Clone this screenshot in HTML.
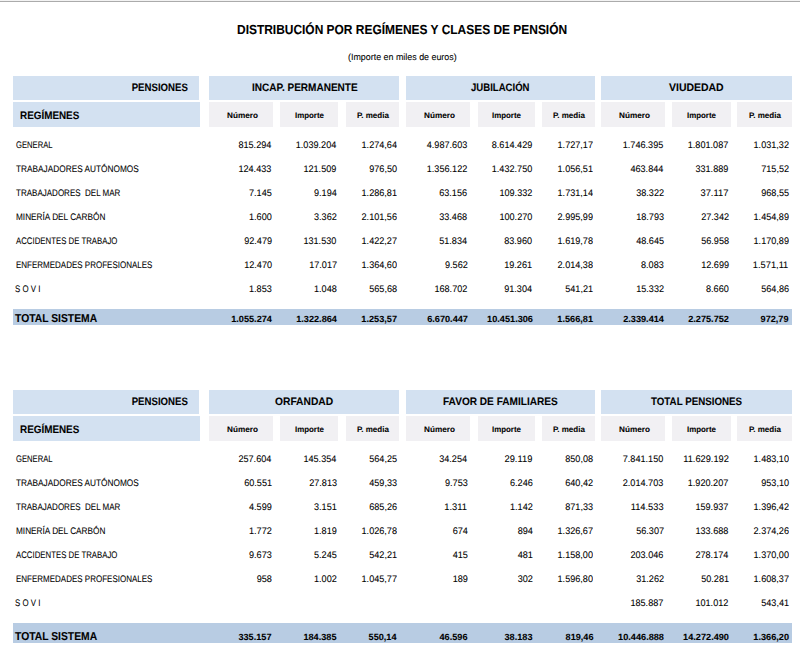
<!DOCTYPE html>
<html><head><meta charset="utf-8"><style>
html,body{margin:0;padding:0;background:#fff;width:800px;height:652px;overflow:hidden}
body{position:relative;font-family:"Liberation Sans",sans-serif}
.r{position:absolute}
.t{position:absolute;white-space:pre;line-height:0;height:0;-webkit-text-stroke:0.08px #000;text-rendering:geometricPrecision}
.t span{display:inline-block;line-height:0;height:0;vertical-align:baseline}
</style></head><body>
<div class="r" style="left:0px;top:0px;width:800.00px;height:1.00px;background:#f3f3f3"></div>
<div class="r" style="left:0px;top:1px;width:800.00px;height:1.00px;background:#ababab"></div>
<div class="t" style="left:236.75px;transform-origin:0 0;top:30.38px;font-size:13.188px;font-weight:700;color:#000;transform:scaleX(0.9069)"><span>DISTRIBUCIÓN POR REGÍMENES Y CLASES DE PENSIÓN</span></div>
<div class="t" style="left:348.00px;transform-origin:0 0;top:57.29px;font-size:9.120px;font-weight:400;color:#000;transform:scaleX(0.9757)"><span>(Importe en miles de euros)</span></div>
<div class="r" style="left:12.5px;top:75.5px;width:186.50px;height:24.00px;background:#d3e1f1"></div>
<div class="t" style="right:612.50px;transform-origin:100% 0;top:87.51px;font-size:10.788px;font-weight:700;color:#000;transform:scaleX(0.8936)"><span>PENSIONES</span></div>
<div class="r" style="left:12.5px;top:102px;width:187.00px;height:24.50px;background:#d3e1f1"></div>
<div class="t" style="left:20.00px;transform-origin:0 0;top:115.76px;font-size:10.788px;font-weight:700;color:#000;transform:scaleX(0.9175)"><span>REGÍMENES</span></div>
<div class="r" style="left:209.4px;top:75.5px;width:189.20px;height:24.00px;background:#d3e1f1"></div>
<div class="t" style="left:252.25px;transform-origin:0 0;top:87.51px;font-size:10.788px;font-weight:700;color:#000;transform:scaleX(0.9314)"><span>INCAP. PERMANENTE</span></div>
<div class="r" style="left:405.7px;top:75.5px;width:189.30px;height:24.00px;background:#d3e1f1"></div>
<div class="t" style="left:471.10px;transform-origin:0 0;top:87.51px;font-size:10.788px;font-weight:700;color:#000;transform:scaleX(0.8889)"><span>JUBILACIÓN</span></div>
<div class="r" style="left:601.4px;top:75.5px;width:190.60px;height:24.00px;background:#d3e1f1"></div>
<div class="t" style="left:668.80px;transform-origin:0 0;top:87.51px;font-size:10.788px;font-weight:700;color:#000;transform:scaleX(0.9726)"><span>VIUDEDAD</span></div>
<div class="r" style="left:209.4px;top:101.75px;width:63.60px;height:24.75px;background:#f1f0f3"></div>
<div class="t" style="left:227.00px;transform-origin:0 0;top:116.45px;font-size:8.091px;font-weight:700;color:#000;transform:scaleX(1.0141)"><span>Número</span></div>
<div class="r" style="left:279.6px;top:101.75px;width:58.40px;height:24.75px;background:#f1f0f3"></div>
<div class="t" style="left:294.60px;transform-origin:0 0;top:116.45px;font-size:8.091px;font-weight:700;color:#000;transform:scaleX(0.9774)"><span>Importe</span></div>
<div class="r" style="left:345.5px;top:101.75px;width:53.50px;height:24.75px;background:#f1f0f3"></div>
<div class="t" style="left:356.55px;transform-origin:0 0;top:116.45px;font-size:8.091px;font-weight:700;color:#000;transform:scaleX(0.9910)"><span>P. media</span></div>
<div class="r" style="left:405.7px;top:101.75px;width:64.30px;height:24.75px;background:#f1f0f3"></div>
<div class="t" style="left:423.65px;transform-origin:0 0;top:116.45px;font-size:8.091px;font-weight:700;color:#000;transform:scaleX(1.0141)"><span>Número</span></div>
<div class="r" style="left:477.5px;top:101.75px;width:57.50px;height:24.75px;background:#f1f0f3"></div>
<div class="t" style="left:492.05px;transform-origin:0 0;top:116.45px;font-size:8.091px;font-weight:700;color:#000;transform:scaleX(0.9774)"><span>Importe</span></div>
<div class="r" style="left:542px;top:101.75px;width:53.00px;height:24.75px;background:#f1f0f3"></div>
<div class="t" style="left:552.80px;transform-origin:0 0;top:116.45px;font-size:8.091px;font-weight:700;color:#000;transform:scaleX(0.9910)"><span>P. media</span></div>
<div class="r" style="left:601.4px;top:101.75px;width:63.60px;height:24.75px;background:#f1f0f3"></div>
<div class="t" style="left:619.00px;transform-origin:0 0;top:116.45px;font-size:8.091px;font-weight:700;color:#000;transform:scaleX(1.0141)"><span>Número</span></div>
<div class="r" style="left:672px;top:101.75px;width:59.00px;height:24.75px;background:#f1f0f3"></div>
<div class="t" style="left:687.30px;transform-origin:0 0;top:116.45px;font-size:8.091px;font-weight:700;color:#000;transform:scaleX(0.9774)"><span>Importe</span></div>
<div class="r" style="left:737.3px;top:101.75px;width:54.70px;height:24.75px;background:#f1f0f3"></div>
<div class="t" style="left:748.95px;transform-origin:0 0;top:116.45px;font-size:8.091px;font-weight:700;color:#000;transform:scaleX(0.9910)"><span>P. media</span></div>
<div class="t" style="left:15.60px;transform-origin:0 0;top:145.56px;font-size:9.500px;font-weight:400;color:#000;transform:scaleX(0.8040)"><span>GENERAL</span></div>
<div class="t" style="right:528.25px;transform-origin:100% 0;top:145.56px;font-size:9.500px;font-weight:400;color:#000;transform:scaleX(0.9592)"><span>815.294</span></div>
<div class="t" style="right:463.25px;transform-origin:100% 0;top:145.56px;font-size:9.500px;font-weight:400;color:#000;transform:scaleX(0.9589)"><span>1.039.204</span></div>
<div class="t" style="right:403.25px;transform-origin:100% 0;top:145.56px;font-size:9.500px;font-weight:400;color:#000;transform:scaleX(0.9580)"><span>1.274,64</span></div>
<div class="t" style="right:332.50px;transform-origin:100% 0;top:145.56px;font-size:9.500px;font-weight:400;color:#000;transform:scaleX(0.9589)"><span>4.987.603</span></div>
<div class="t" style="right:267.50px;transform-origin:100% 0;top:145.56px;font-size:9.500px;font-weight:400;color:#000;transform:scaleX(0.9589)"><span>8.614.429</span></div>
<div class="t" style="right:207.00px;transform-origin:100% 0;top:145.56px;font-size:9.500px;font-weight:400;color:#000;transform:scaleX(0.9580)"><span>1.727,17</span></div>
<div class="t" style="right:136.25px;transform-origin:100% 0;top:145.56px;font-size:9.500px;font-weight:400;color:#000;transform:scaleX(0.9589)"><span>1.746.395</span></div>
<div class="t" style="right:71.25px;transform-origin:100% 0;top:145.56px;font-size:9.500px;font-weight:400;color:#000;transform:scaleX(0.9589)"><span>1.801.087</span></div>
<div class="t" style="right:11.25px;transform-origin:100% 0;top:145.56px;font-size:9.500px;font-weight:400;color:#000;transform:scaleX(0.9580)"><span>1.031,32</span></div>
<div class="t" style="left:15.60px;transform-origin:0 0;top:169.56px;font-size:9.500px;font-weight:400;color:#000;transform:scaleX(0.8713)"><span>TRABAJADORES AUTÓNOMOS</span></div>
<div class="t" style="right:528.25px;transform-origin:100% 0;top:169.56px;font-size:9.500px;font-weight:400;color:#000;transform:scaleX(0.9592)"><span>124.433</span></div>
<div class="t" style="right:463.25px;transform-origin:100% 0;top:169.56px;font-size:9.500px;font-weight:400;color:#000;transform:scaleX(0.9592)"><span>121.509</span></div>
<div class="t" style="right:403.25px;transform-origin:100% 0;top:169.56px;font-size:9.500px;font-weight:400;color:#000;transform:scaleX(0.9580)"><span>976,50</span></div>
<div class="t" style="right:332.50px;transform-origin:100% 0;top:169.56px;font-size:9.500px;font-weight:400;color:#000;transform:scaleX(0.9589)"><span>1.356.122</span></div>
<div class="t" style="right:267.50px;transform-origin:100% 0;top:169.56px;font-size:9.500px;font-weight:400;color:#000;transform:scaleX(0.9589)"><span>1.432.750</span></div>
<div class="t" style="right:207.00px;transform-origin:100% 0;top:169.56px;font-size:9.500px;font-weight:400;color:#000;transform:scaleX(0.9580)"><span>1.056,51</span></div>
<div class="t" style="right:136.25px;transform-origin:100% 0;top:169.56px;font-size:9.500px;font-weight:400;color:#000;transform:scaleX(0.9592)"><span>463.844</span></div>
<div class="t" style="right:71.25px;transform-origin:100% 0;top:169.56px;font-size:9.500px;font-weight:400;color:#000;transform:scaleX(0.9592)"><span>331.889</span></div>
<div class="t" style="right:11.25px;transform-origin:100% 0;top:169.56px;font-size:9.500px;font-weight:400;color:#000;transform:scaleX(0.9580)"><span>715,52</span></div>
<div class="t" style="left:15.60px;transform-origin:0 0;top:193.56px;font-size:9.500px;font-weight:400;color:#000;transform:scaleX(0.8440)"><span>TRABAJADORES  DEL MAR</span></div>
<div class="t" style="right:528.25px;transform-origin:100% 0;top:193.56px;font-size:9.500px;font-weight:400;color:#000;transform:scaleX(0.9592)"><span>7.145</span></div>
<div class="t" style="right:463.25px;transform-origin:100% 0;top:193.56px;font-size:9.500px;font-weight:400;color:#000;transform:scaleX(0.9592)"><span>9.194</span></div>
<div class="t" style="right:403.25px;transform-origin:100% 0;top:193.56px;font-size:9.500px;font-weight:400;color:#000;transform:scaleX(0.9580)"><span>1.286,81</span></div>
<div class="t" style="right:332.50px;transform-origin:100% 0;top:193.56px;font-size:9.500px;font-weight:400;color:#000;transform:scaleX(0.9590)"><span>63.156</span></div>
<div class="t" style="right:267.50px;transform-origin:100% 0;top:193.56px;font-size:9.500px;font-weight:400;color:#000;transform:scaleX(0.9592)"><span>109.332</span></div>
<div class="t" style="right:207.00px;transform-origin:100% 0;top:193.56px;font-size:9.500px;font-weight:400;color:#000;transform:scaleX(0.9580)"><span>1.731,14</span></div>
<div class="t" style="right:136.25px;transform-origin:100% 0;top:193.56px;font-size:9.500px;font-weight:400;color:#000;transform:scaleX(0.9590)"><span>38.322</span></div>
<div class="t" style="right:71.25px;transform-origin:100% 0;top:193.56px;font-size:9.500px;font-weight:400;color:#000;transform:scaleX(0.9831)"><span>37.117</span></div>
<div class="t" style="right:11.25px;transform-origin:100% 0;top:193.56px;font-size:9.500px;font-weight:400;color:#000;transform:scaleX(0.9580)"><span>968,55</span></div>
<div class="t" style="left:15.60px;transform-origin:0 0;top:217.56px;font-size:9.500px;font-weight:400;color:#000;transform:scaleX(0.8670)"><span>MINERÍA DEL CARBÓN</span></div>
<div class="t" style="right:528.25px;transform-origin:100% 0;top:217.56px;font-size:9.500px;font-weight:400;color:#000;transform:scaleX(0.9592)"><span>1.600</span></div>
<div class="t" style="right:463.25px;transform-origin:100% 0;top:217.56px;font-size:9.500px;font-weight:400;color:#000;transform:scaleX(0.9592)"><span>3.362</span></div>
<div class="t" style="right:403.25px;transform-origin:100% 0;top:217.56px;font-size:9.500px;font-weight:400;color:#000;transform:scaleX(0.9580)"><span>2.101,56</span></div>
<div class="t" style="right:332.50px;transform-origin:100% 0;top:217.56px;font-size:9.500px;font-weight:400;color:#000;transform:scaleX(0.9590)"><span>33.468</span></div>
<div class="t" style="right:267.50px;transform-origin:100% 0;top:217.56px;font-size:9.500px;font-weight:400;color:#000;transform:scaleX(0.9592)"><span>100.270</span></div>
<div class="t" style="right:207.00px;transform-origin:100% 0;top:217.56px;font-size:9.500px;font-weight:400;color:#000;transform:scaleX(0.9580)"><span>2.995,99</span></div>
<div class="t" style="right:136.25px;transform-origin:100% 0;top:217.56px;font-size:9.500px;font-weight:400;color:#000;transform:scaleX(0.9590)"><span>18.793</span></div>
<div class="t" style="right:71.25px;transform-origin:100% 0;top:217.56px;font-size:9.500px;font-weight:400;color:#000;transform:scaleX(0.9590)"><span>27.342</span></div>
<div class="t" style="right:11.25px;transform-origin:100% 0;top:217.56px;font-size:9.500px;font-weight:400;color:#000;transform:scaleX(0.9580)"><span>1.454,89</span></div>
<div class="t" style="left:15.60px;transform-origin:0 0;top:241.56px;font-size:9.500px;font-weight:400;color:#000;transform:scaleX(0.8221)"><span>ACCIDENTES DE TRABAJO</span></div>
<div class="t" style="right:528.25px;transform-origin:100% 0;top:241.56px;font-size:9.500px;font-weight:400;color:#000;transform:scaleX(0.9590)"><span>92.479</span></div>
<div class="t" style="right:463.25px;transform-origin:100% 0;top:241.56px;font-size:9.500px;font-weight:400;color:#000;transform:scaleX(0.9592)"><span>131.530</span></div>
<div class="t" style="right:403.25px;transform-origin:100% 0;top:241.56px;font-size:9.500px;font-weight:400;color:#000;transform:scaleX(0.9580)"><span>1.422,27</span></div>
<div class="t" style="right:332.50px;transform-origin:100% 0;top:241.56px;font-size:9.500px;font-weight:400;color:#000;transform:scaleX(0.9590)"><span>51.834</span></div>
<div class="t" style="right:267.50px;transform-origin:100% 0;top:241.56px;font-size:9.500px;font-weight:400;color:#000;transform:scaleX(0.9590)"><span>83.960</span></div>
<div class="t" style="right:207.00px;transform-origin:100% 0;top:241.56px;font-size:9.500px;font-weight:400;color:#000;transform:scaleX(0.9580)"><span>1.619,78</span></div>
<div class="t" style="right:136.25px;transform-origin:100% 0;top:241.56px;font-size:9.500px;font-weight:400;color:#000;transform:scaleX(0.9590)"><span>48.645</span></div>
<div class="t" style="right:71.25px;transform-origin:100% 0;top:241.56px;font-size:9.500px;font-weight:400;color:#000;transform:scaleX(0.9590)"><span>56.958</span></div>
<div class="t" style="right:11.25px;transform-origin:100% 0;top:241.56px;font-size:9.500px;font-weight:400;color:#000;transform:scaleX(0.9580)"><span>1.170,89</span></div>
<div class="t" style="left:15.60px;transform-origin:0 0;top:265.56px;font-size:9.500px;font-weight:400;color:#000;transform:scaleX(0.8417)"><span>ENFERMEDADES PROFESIONALES</span></div>
<div class="t" style="right:528.25px;transform-origin:100% 0;top:265.56px;font-size:9.500px;font-weight:400;color:#000;transform:scaleX(0.9590)"><span>12.470</span></div>
<div class="t" style="right:463.25px;transform-origin:100% 0;top:265.56px;font-size:9.500px;font-weight:400;color:#000;transform:scaleX(0.9590)"><span>17.017</span></div>
<div class="t" style="right:403.25px;transform-origin:100% 0;top:265.56px;font-size:9.500px;font-weight:400;color:#000;transform:scaleX(0.9580)"><span>1.364,60</span></div>
<div class="t" style="right:332.50px;transform-origin:100% 0;top:265.56px;font-size:9.500px;font-weight:400;color:#000;transform:scaleX(0.9592)"><span>9.562</span></div>
<div class="t" style="right:267.50px;transform-origin:100% 0;top:265.56px;font-size:9.500px;font-weight:400;color:#000;transform:scaleX(0.9590)"><span>19.261</span></div>
<div class="t" style="right:207.00px;transform-origin:100% 0;top:265.56px;font-size:9.500px;font-weight:400;color:#000;transform:scaleX(0.9580)"><span>2.014,38</span></div>
<div class="t" style="right:136.25px;transform-origin:100% 0;top:265.56px;font-size:9.500px;font-weight:400;color:#000;transform:scaleX(0.9592)"><span>8.083</span></div>
<div class="t" style="right:71.25px;transform-origin:100% 0;top:265.56px;font-size:9.500px;font-weight:400;color:#000;transform:scaleX(0.9590)"><span>12.699</span></div>
<div class="t" style="right:11.25px;transform-origin:100% 0;top:265.56px;font-size:9.500px;font-weight:400;color:#000;transform:scaleX(0.9768)"><span>1.571,11</span></div>
<div class="t" style="left:15.00px;transform-origin:0 0;top:289.56px;font-size:9.500px;font-weight:400;color:#000;transform:scaleX(0.8296)"><span>S O V I</span></div>
<div class="t" style="right:528.25px;transform-origin:100% 0;top:289.56px;font-size:9.500px;font-weight:400;color:#000;transform:scaleX(0.9592)"><span>1.853</span></div>
<div class="t" style="right:463.25px;transform-origin:100% 0;top:289.56px;font-size:9.500px;font-weight:400;color:#000;transform:scaleX(0.9592)"><span>1.048</span></div>
<div class="t" style="right:403.25px;transform-origin:100% 0;top:289.56px;font-size:9.500px;font-weight:400;color:#000;transform:scaleX(0.9580)"><span>565,68</span></div>
<div class="t" style="right:332.50px;transform-origin:100% 0;top:289.56px;font-size:9.500px;font-weight:400;color:#000;transform:scaleX(0.9592)"><span>168.702</span></div>
<div class="t" style="right:267.50px;transform-origin:100% 0;top:289.56px;font-size:9.500px;font-weight:400;color:#000;transform:scaleX(0.9590)"><span>91.304</span></div>
<div class="t" style="right:207.00px;transform-origin:100% 0;top:289.56px;font-size:9.500px;font-weight:400;color:#000;transform:scaleX(0.9580)"><span>541,21</span></div>
<div class="t" style="right:136.25px;transform-origin:100% 0;top:289.56px;font-size:9.500px;font-weight:400;color:#000;transform:scaleX(0.9590)"><span>15.332</span></div>
<div class="t" style="right:71.25px;transform-origin:100% 0;top:289.56px;font-size:9.500px;font-weight:400;color:#000;transform:scaleX(0.9592)"><span>8.660</span></div>
<div class="t" style="right:11.25px;transform-origin:100% 0;top:289.56px;font-size:9.500px;font-weight:400;color:#000;transform:scaleX(0.9580)"><span>564,86</span></div>
<div class="r" style="left:12.5px;top:309px;width:779.50px;height:16.00px;background:#b8cce3"></div>
<div class="t" style="left:15.25px;transform-origin:0 0;top:318.89px;font-size:11.417px;font-weight:700;color:#000;transform:scaleX(0.9067)"><span>TOTAL SISTEMA</span></div>
<div class="t" style="right:528.05px;transform-origin:100% 0;top:319.13px;font-size:8.990px;font-weight:700;color:#000;transform:scaleX(1.0206)"><span>1.055.274</span></div>
<div class="t" style="right:463.05px;transform-origin:100% 0;top:319.13px;font-size:8.990px;font-weight:700;color:#000;transform:scaleX(1.0206)"><span>1.322.864</span></div>
<div class="t" style="right:403.05px;transform-origin:100% 0;top:319.13px;font-size:8.990px;font-weight:700;color:#000;transform:scaleX(1.0189)"><span>1.253,57</span></div>
<div class="t" style="right:332.30px;transform-origin:100% 0;top:319.13px;font-size:8.990px;font-weight:700;color:#000;transform:scaleX(1.0206)"><span>6.670.447</span></div>
<div class="t" style="right:267.30px;transform-origin:100% 0;top:319.13px;font-size:8.990px;font-weight:700;color:#000;transform:scaleX(1.0199)"><span>10.451.306</span></div>
<div class="t" style="right:206.80px;transform-origin:100% 0;top:319.13px;font-size:8.990px;font-weight:700;color:#000;transform:scaleX(1.0189)"><span>1.566,81</span></div>
<div class="t" style="right:136.05px;transform-origin:100% 0;top:319.13px;font-size:8.990px;font-weight:700;color:#000;transform:scaleX(1.0206)"><span>2.339.414</span></div>
<div class="t" style="right:71.05px;transform-origin:100% 0;top:319.13px;font-size:8.990px;font-weight:700;color:#000;transform:scaleX(1.0206)"><span>2.275.752</span></div>
<div class="t" style="right:11.05px;transform-origin:100% 0;top:319.13px;font-size:8.990px;font-weight:700;color:#000;transform:scaleX(1.0153)"><span>972,79</span></div>
<div class="r" style="left:12.5px;top:389.5px;width:186.50px;height:24.00px;background:#d3e1f1"></div>
<div class="t" style="right:612.50px;transform-origin:100% 0;top:401.51px;font-size:10.788px;font-weight:700;color:#000;transform:scaleX(0.8936)"><span>PENSIONES</span></div>
<div class="r" style="left:12.5px;top:416px;width:187.00px;height:24.50px;background:#d3e1f1"></div>
<div class="t" style="left:20.00px;transform-origin:0 0;top:429.76px;font-size:10.788px;font-weight:700;color:#000;transform:scaleX(0.9175)"><span>REGÍMENES</span></div>
<div class="r" style="left:209.4px;top:389.5px;width:189.20px;height:24.00px;background:#d3e1f1"></div>
<div class="t" style="left:274.98px;transform-origin:0 0;top:401.51px;font-size:10.788px;font-weight:700;color:#000;transform:scaleX(0.9528)"><span>ORFANDAD</span></div>
<div class="r" style="left:405.7px;top:389.5px;width:189.30px;height:24.00px;background:#d3e1f1"></div>
<div class="t" style="left:443.00px;transform-origin:0 0;top:401.51px;font-size:10.788px;font-weight:700;color:#000;transform:scaleX(0.9375)"><span>FAVOR DE FAMILIARES</span></div>
<div class="r" style="left:601.4px;top:389.5px;width:190.60px;height:24.00px;background:#d3e1f1"></div>
<div class="t" style="left:651.27px;transform-origin:0 0;top:401.51px;font-size:10.788px;font-weight:700;color:#000;transform:scaleX(0.9061)"><span>TOTAL PENSIONES</span></div>
<div class="r" style="left:209.4px;top:415.75px;width:63.60px;height:24.75px;background:#f1f0f3"></div>
<div class="t" style="left:227.00px;transform-origin:0 0;top:430.45px;font-size:8.091px;font-weight:700;color:#000;transform:scaleX(1.0141)"><span>Número</span></div>
<div class="r" style="left:279.6px;top:415.75px;width:58.40px;height:24.75px;background:#f1f0f3"></div>
<div class="t" style="left:294.60px;transform-origin:0 0;top:430.45px;font-size:8.091px;font-weight:700;color:#000;transform:scaleX(0.9774)"><span>Importe</span></div>
<div class="r" style="left:345.5px;top:415.75px;width:53.50px;height:24.75px;background:#f1f0f3"></div>
<div class="t" style="left:356.55px;transform-origin:0 0;top:430.45px;font-size:8.091px;font-weight:700;color:#000;transform:scaleX(0.9910)"><span>P. media</span></div>
<div class="r" style="left:405.7px;top:415.75px;width:64.30px;height:24.75px;background:#f1f0f3"></div>
<div class="t" style="left:423.65px;transform-origin:0 0;top:430.45px;font-size:8.091px;font-weight:700;color:#000;transform:scaleX(1.0141)"><span>Número</span></div>
<div class="r" style="left:477.5px;top:415.75px;width:57.50px;height:24.75px;background:#f1f0f3"></div>
<div class="t" style="left:492.05px;transform-origin:0 0;top:430.45px;font-size:8.091px;font-weight:700;color:#000;transform:scaleX(0.9774)"><span>Importe</span></div>
<div class="r" style="left:542px;top:415.75px;width:53.00px;height:24.75px;background:#f1f0f3"></div>
<div class="t" style="left:552.80px;transform-origin:0 0;top:430.45px;font-size:8.091px;font-weight:700;color:#000;transform:scaleX(0.9910)"><span>P. media</span></div>
<div class="r" style="left:601.4px;top:415.75px;width:63.60px;height:24.75px;background:#f1f0f3"></div>
<div class="t" style="left:619.00px;transform-origin:0 0;top:430.45px;font-size:8.091px;font-weight:700;color:#000;transform:scaleX(1.0141)"><span>Número</span></div>
<div class="r" style="left:672px;top:415.75px;width:59.00px;height:24.75px;background:#f1f0f3"></div>
<div class="t" style="left:687.30px;transform-origin:0 0;top:430.45px;font-size:8.091px;font-weight:700;color:#000;transform:scaleX(0.9774)"><span>Importe</span></div>
<div class="r" style="left:737.3px;top:415.75px;width:54.70px;height:24.75px;background:#f1f0f3"></div>
<div class="t" style="left:748.95px;transform-origin:0 0;top:430.45px;font-size:8.091px;font-weight:700;color:#000;transform:scaleX(0.9910)"><span>P. media</span></div>
<div class="t" style="left:15.60px;transform-origin:0 0;top:459.56px;font-size:9.500px;font-weight:400;color:#000;transform:scaleX(0.8040)"><span>GENERAL</span></div>
<div class="t" style="right:528.25px;transform-origin:100% 0;top:459.56px;font-size:9.500px;font-weight:400;color:#000;transform:scaleX(0.9592)"><span>257.604</span></div>
<div class="t" style="right:463.25px;transform-origin:100% 0;top:459.56px;font-size:9.500px;font-weight:400;color:#000;transform:scaleX(0.9592)"><span>145.354</span></div>
<div class="t" style="right:403.25px;transform-origin:100% 0;top:459.56px;font-size:9.500px;font-weight:400;color:#000;transform:scaleX(0.9580)"><span>564,25</span></div>
<div class="t" style="right:332.50px;transform-origin:100% 0;top:459.56px;font-size:9.500px;font-weight:400;color:#000;transform:scaleX(0.9590)"><span>34.254</span></div>
<div class="t" style="right:267.50px;transform-origin:100% 0;top:459.56px;font-size:9.500px;font-weight:400;color:#000;transform:scaleX(0.9831)"><span>29.119</span></div>
<div class="t" style="right:207.00px;transform-origin:100% 0;top:459.56px;font-size:9.500px;font-weight:400;color:#000;transform:scaleX(0.9580)"><span>850,08</span></div>
<div class="t" style="right:136.25px;transform-origin:100% 0;top:459.56px;font-size:9.500px;font-weight:400;color:#000;transform:scaleX(0.9589)"><span>7.841.150</span></div>
<div class="t" style="right:71.25px;transform-origin:100% 0;top:459.56px;font-size:9.500px;font-weight:400;color:#000;transform:scaleX(0.9734)"><span>11.629.192</span></div>
<div class="t" style="right:11.25px;transform-origin:100% 0;top:459.56px;font-size:9.500px;font-weight:400;color:#000;transform:scaleX(0.9580)"><span>1.483,10</span></div>
<div class="t" style="left:15.60px;transform-origin:0 0;top:483.56px;font-size:9.500px;font-weight:400;color:#000;transform:scaleX(0.8713)"><span>TRABAJADORES AUTÓNOMOS</span></div>
<div class="t" style="right:528.25px;transform-origin:100% 0;top:483.56px;font-size:9.500px;font-weight:400;color:#000;transform:scaleX(0.9590)"><span>60.551</span></div>
<div class="t" style="right:463.25px;transform-origin:100% 0;top:483.56px;font-size:9.500px;font-weight:400;color:#000;transform:scaleX(0.9590)"><span>27.813</span></div>
<div class="t" style="right:403.25px;transform-origin:100% 0;top:483.56px;font-size:9.500px;font-weight:400;color:#000;transform:scaleX(0.9580)"><span>459,33</span></div>
<div class="t" style="right:332.50px;transform-origin:100% 0;top:483.56px;font-size:9.500px;font-weight:400;color:#000;transform:scaleX(0.9592)"><span>9.753</span></div>
<div class="t" style="right:267.50px;transform-origin:100% 0;top:483.56px;font-size:9.500px;font-weight:400;color:#000;transform:scaleX(0.9592)"><span>6.246</span></div>
<div class="t" style="right:207.00px;transform-origin:100% 0;top:483.56px;font-size:9.500px;font-weight:400;color:#000;transform:scaleX(0.9580)"><span>640,42</span></div>
<div class="t" style="right:136.25px;transform-origin:100% 0;top:483.56px;font-size:9.500px;font-weight:400;color:#000;transform:scaleX(0.9589)"><span>2.014.703</span></div>
<div class="t" style="right:71.25px;transform-origin:100% 0;top:483.56px;font-size:9.500px;font-weight:400;color:#000;transform:scaleX(0.9589)"><span>1.920.207</span></div>
<div class="t" style="right:11.25px;transform-origin:100% 0;top:483.56px;font-size:9.500px;font-weight:400;color:#000;transform:scaleX(0.9580)"><span>953,10</span></div>
<div class="t" style="left:15.60px;transform-origin:0 0;top:507.56px;font-size:9.500px;font-weight:400;color:#000;transform:scaleX(0.8440)"><span>TRABAJADORES  DEL MAR</span></div>
<div class="t" style="right:528.25px;transform-origin:100% 0;top:507.56px;font-size:9.500px;font-weight:400;color:#000;transform:scaleX(0.9592)"><span>4.599</span></div>
<div class="t" style="right:463.25px;transform-origin:100% 0;top:507.56px;font-size:9.500px;font-weight:400;color:#000;transform:scaleX(0.9592)"><span>3.151</span></div>
<div class="t" style="right:403.25px;transform-origin:100% 0;top:507.56px;font-size:9.500px;font-weight:400;color:#000;transform:scaleX(0.9580)"><span>685,26</span></div>
<div class="t" style="right:332.50px;transform-origin:100% 0;top:507.56px;font-size:9.500px;font-weight:400;color:#000;transform:scaleX(0.9885)"><span>1.311</span></div>
<div class="t" style="right:267.50px;transform-origin:100% 0;top:507.56px;font-size:9.500px;font-weight:400;color:#000;transform:scaleX(0.9592)"><span>1.142</span></div>
<div class="t" style="right:207.00px;transform-origin:100% 0;top:507.56px;font-size:9.500px;font-weight:400;color:#000;transform:scaleX(0.9580)"><span>871,33</span></div>
<div class="t" style="right:136.25px;transform-origin:100% 0;top:507.56px;font-size:9.500px;font-weight:400;color:#000;transform:scaleX(0.9792)"><span>114.533</span></div>
<div class="t" style="right:71.25px;transform-origin:100% 0;top:507.56px;font-size:9.500px;font-weight:400;color:#000;transform:scaleX(0.9592)"><span>159.937</span></div>
<div class="t" style="right:11.25px;transform-origin:100% 0;top:507.56px;font-size:9.500px;font-weight:400;color:#000;transform:scaleX(0.9580)"><span>1.396,42</span></div>
<div class="t" style="left:15.60px;transform-origin:0 0;top:531.56px;font-size:9.500px;font-weight:400;color:#000;transform:scaleX(0.8670)"><span>MINERÍA DEL CARBÓN</span></div>
<div class="t" style="right:528.25px;transform-origin:100% 0;top:531.56px;font-size:9.500px;font-weight:400;color:#000;transform:scaleX(0.9592)"><span>1.772</span></div>
<div class="t" style="right:463.25px;transform-origin:100% 0;top:531.56px;font-size:9.500px;font-weight:400;color:#000;transform:scaleX(0.9592)"><span>1.819</span></div>
<div class="t" style="right:403.25px;transform-origin:100% 0;top:531.56px;font-size:9.500px;font-weight:400;color:#000;transform:scaleX(0.9580)"><span>1.026,78</span></div>
<div class="t" style="right:332.50px;transform-origin:100% 0;top:531.56px;font-size:9.500px;font-weight:400;color:#000;transform:scaleX(0.9599)"><span>674</span></div>
<div class="t" style="right:267.50px;transform-origin:100% 0;top:531.56px;font-size:9.500px;font-weight:400;color:#000;transform:scaleX(0.9599)"><span>894</span></div>
<div class="t" style="right:207.00px;transform-origin:100% 0;top:531.56px;font-size:9.500px;font-weight:400;color:#000;transform:scaleX(0.9580)"><span>1.326,67</span></div>
<div class="t" style="right:136.25px;transform-origin:100% 0;top:531.56px;font-size:9.500px;font-weight:400;color:#000;transform:scaleX(0.9590)"><span>56.307</span></div>
<div class="t" style="right:71.25px;transform-origin:100% 0;top:531.56px;font-size:9.500px;font-weight:400;color:#000;transform:scaleX(0.9592)"><span>133.688</span></div>
<div class="t" style="right:11.25px;transform-origin:100% 0;top:531.56px;font-size:9.500px;font-weight:400;color:#000;transform:scaleX(0.9580)"><span>2.374,26</span></div>
<div class="t" style="left:15.60px;transform-origin:0 0;top:555.56px;font-size:9.500px;font-weight:400;color:#000;transform:scaleX(0.8221)"><span>ACCIDENTES DE TRABAJO</span></div>
<div class="t" style="right:528.25px;transform-origin:100% 0;top:555.56px;font-size:9.500px;font-weight:400;color:#000;transform:scaleX(0.9592)"><span>9.673</span></div>
<div class="t" style="right:463.25px;transform-origin:100% 0;top:555.56px;font-size:9.500px;font-weight:400;color:#000;transform:scaleX(0.9592)"><span>5.245</span></div>
<div class="t" style="right:403.25px;transform-origin:100% 0;top:555.56px;font-size:9.500px;font-weight:400;color:#000;transform:scaleX(0.9580)"><span>542,21</span></div>
<div class="t" style="right:332.50px;transform-origin:100% 0;top:555.56px;font-size:9.500px;font-weight:400;color:#000;transform:scaleX(0.9599)"><span>415</span></div>
<div class="t" style="right:267.50px;transform-origin:100% 0;top:555.56px;font-size:9.500px;font-weight:400;color:#000;transform:scaleX(0.9599)"><span>481</span></div>
<div class="t" style="right:207.00px;transform-origin:100% 0;top:555.56px;font-size:9.500px;font-weight:400;color:#000;transform:scaleX(0.9580)"><span>1.158,00</span></div>
<div class="t" style="right:136.25px;transform-origin:100% 0;top:555.56px;font-size:9.500px;font-weight:400;color:#000;transform:scaleX(0.9592)"><span>203.046</span></div>
<div class="t" style="right:71.25px;transform-origin:100% 0;top:555.56px;font-size:9.500px;font-weight:400;color:#000;transform:scaleX(0.9592)"><span>278.174</span></div>
<div class="t" style="right:11.25px;transform-origin:100% 0;top:555.56px;font-size:9.500px;font-weight:400;color:#000;transform:scaleX(0.9580)"><span>1.370,00</span></div>
<div class="t" style="left:15.60px;transform-origin:0 0;top:579.56px;font-size:9.500px;font-weight:400;color:#000;transform:scaleX(0.8417)"><span>ENFERMEDADES PROFESIONALES</span></div>
<div class="t" style="right:528.25px;transform-origin:100% 0;top:579.56px;font-size:9.500px;font-weight:400;color:#000;transform:scaleX(0.9599)"><span>958</span></div>
<div class="t" style="right:463.25px;transform-origin:100% 0;top:579.56px;font-size:9.500px;font-weight:400;color:#000;transform:scaleX(0.9592)"><span>1.002</span></div>
<div class="t" style="right:403.25px;transform-origin:100% 0;top:579.56px;font-size:9.500px;font-weight:400;color:#000;transform:scaleX(0.9580)"><span>1.045,77</span></div>
<div class="t" style="right:332.50px;transform-origin:100% 0;top:579.56px;font-size:9.500px;font-weight:400;color:#000;transform:scaleX(0.9599)"><span>189</span></div>
<div class="t" style="right:267.50px;transform-origin:100% 0;top:579.56px;font-size:9.500px;font-weight:400;color:#000;transform:scaleX(0.9599)"><span>302</span></div>
<div class="t" style="right:207.00px;transform-origin:100% 0;top:579.56px;font-size:9.500px;font-weight:400;color:#000;transform:scaleX(0.9580)"><span>1.596,80</span></div>
<div class="t" style="right:136.25px;transform-origin:100% 0;top:579.56px;font-size:9.500px;font-weight:400;color:#000;transform:scaleX(0.9590)"><span>31.262</span></div>
<div class="t" style="right:71.25px;transform-origin:100% 0;top:579.56px;font-size:9.500px;font-weight:400;color:#000;transform:scaleX(0.9590)"><span>50.281</span></div>
<div class="t" style="right:11.25px;transform-origin:100% 0;top:579.56px;font-size:9.500px;font-weight:400;color:#000;transform:scaleX(0.9580)"><span>1.608,37</span></div>
<div class="t" style="left:15.00px;transform-origin:0 0;top:603.56px;font-size:9.500px;font-weight:400;color:#000;transform:scaleX(0.8296)"><span>S O V I</span></div>
<div class="t" style="right:136.25px;transform-origin:100% 0;top:603.56px;font-size:9.500px;font-weight:400;color:#000;transform:scaleX(0.9592)"><span>185.887</span></div>
<div class="t" style="right:71.25px;transform-origin:100% 0;top:603.56px;font-size:9.500px;font-weight:400;color:#000;transform:scaleX(0.9592)"><span>101.012</span></div>
<div class="t" style="right:11.25px;transform-origin:100% 0;top:603.56px;font-size:9.500px;font-weight:400;color:#000;transform:scaleX(0.9580)"><span>543,41</span></div>
<div class="r" style="left:12.5px;top:623px;width:779.50px;height:20.00px;background:#b8cce3"></div>
<div class="t" style="left:15.25px;transform-origin:0 0;top:636.79px;font-size:11.417px;font-weight:700;color:#000;transform:scaleX(0.9067)"><span>TOTAL SISTEMA</span></div>
<div class="t" style="right:528.05px;transform-origin:100% 0;top:637.38px;font-size:8.990px;font-weight:700;color:#000;transform:scaleX(1.0179)"><span>335.157</span></div>
<div class="t" style="right:463.05px;transform-origin:100% 0;top:637.38px;font-size:8.990px;font-weight:700;color:#000;transform:scaleX(1.0179)"><span>184.385</span></div>
<div class="t" style="right:403.05px;transform-origin:100% 0;top:637.38px;font-size:8.990px;font-weight:700;color:#000;transform:scaleX(1.0153)"><span>550,14</span></div>
<div class="t" style="right:332.30px;transform-origin:100% 0;top:637.38px;font-size:8.990px;font-weight:700;color:#000;transform:scaleX(1.0185)"><span>46.596</span></div>
<div class="t" style="right:267.30px;transform-origin:100% 0;top:637.38px;font-size:8.990px;font-weight:700;color:#000;transform:scaleX(1.0185)"><span>38.183</span></div>
<div class="t" style="right:206.80px;transform-origin:100% 0;top:637.38px;font-size:8.990px;font-weight:700;color:#000;transform:scaleX(1.0153)"><span>819,46</span></div>
<div class="t" style="right:136.05px;transform-origin:100% 0;top:637.38px;font-size:8.990px;font-weight:700;color:#000;transform:scaleX(1.0199)"><span>10.446.888</span></div>
<div class="t" style="right:71.05px;transform-origin:100% 0;top:637.38px;font-size:8.990px;font-weight:700;color:#000;transform:scaleX(1.0199)"><span>14.272.490</span></div>
<div class="t" style="right:11.05px;transform-origin:100% 0;top:637.38px;font-size:8.990px;font-weight:700;color:#000;transform:scaleX(1.0189)"><span>1.366,20</span></div>
</body></html>
